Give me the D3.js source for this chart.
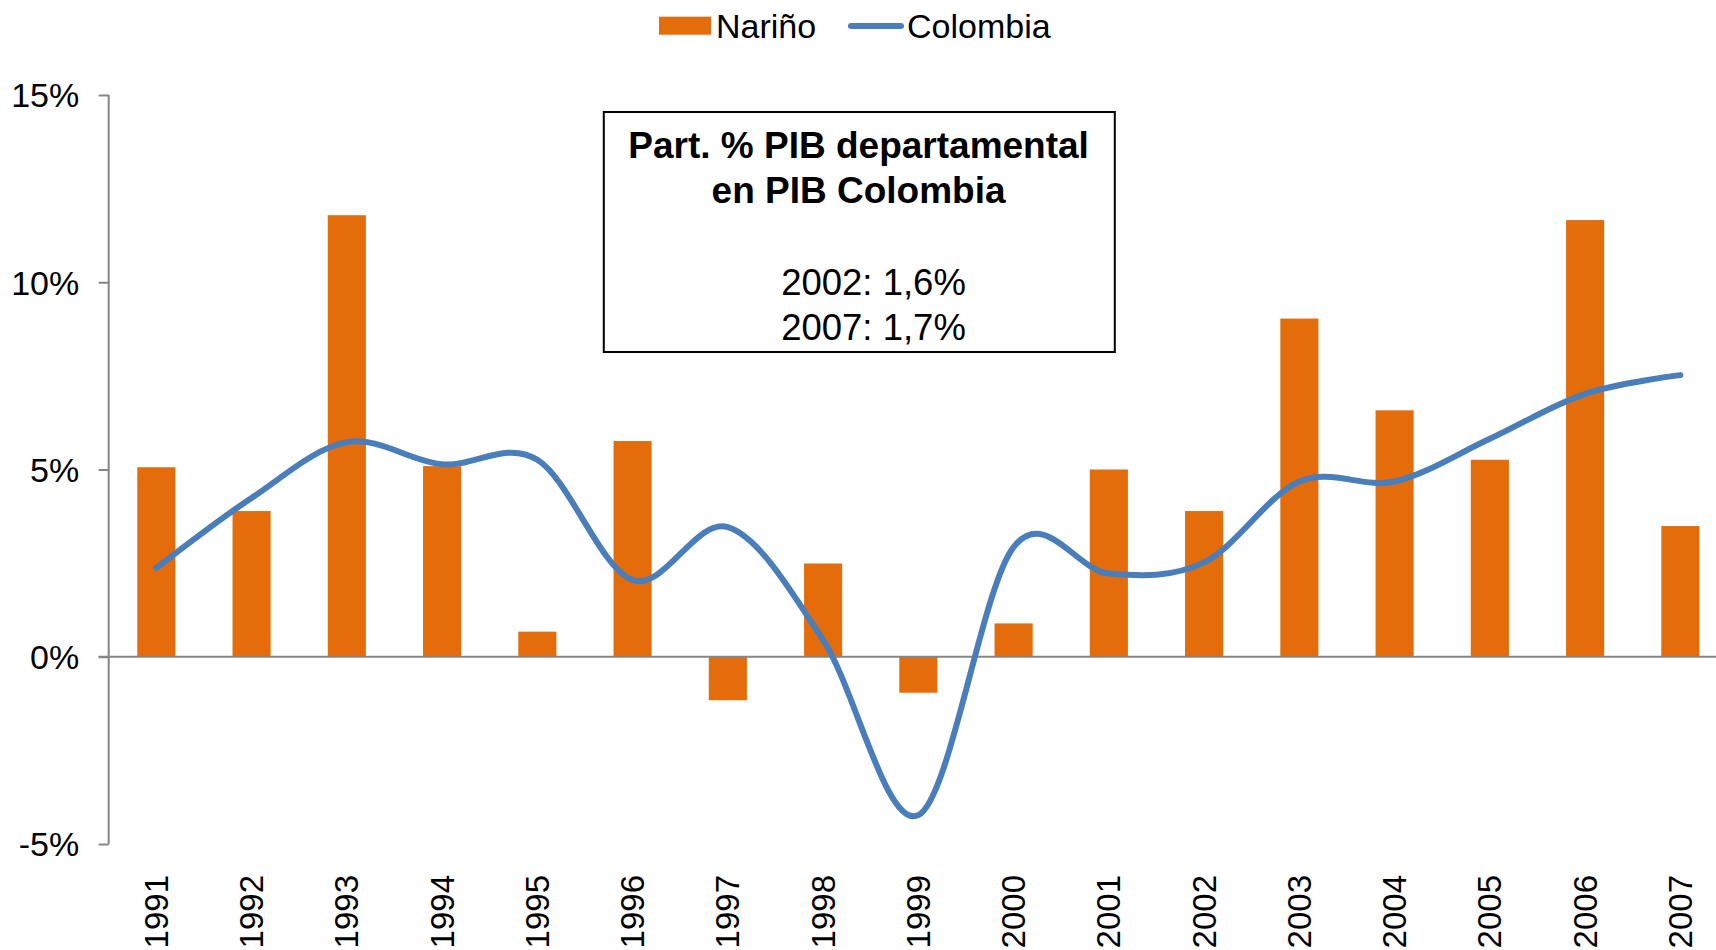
<!DOCTYPE html>
<html>
<head>
<meta charset="utf-8">
<script src="https://cdn.jsdelivr.net/npm/d3@7"></script>
<style>
  html, body { margin: 0; padding: 0; background: #fff; }
  svg { display: block; font-family: "Liberation Sans", Arial, sans-serif; }
</style>
</head>
<body>
<svg id="chart" width="1716" height="950"></svg>
<script>
const years = ["1991","1992","1993","1994","1995","1996","1997","1998","1999","2000","2001","2002","2003","2004","2005","2006","2007"];
const narino = [5.06, 3.89, 11.79, 5.09, 0.67, 5.76, -1.16, 2.49, -0.96, 0.89, 5.0, 3.89, 9.03, 6.58, 5.26, 11.66, 3.49];
const colombia = [2.37, 4.24, 5.73, 5.14, 5.26, 2.05, 3.46, 0.45, -4.23, 2.93, 2.22, 2.52, 4.68, 4.68, 5.82, 7.02, 7.52];
const yTicks = [-5, 0, 5, 10, 15];
const seriesNames = ["Nariño", "Colombia"];
const boxTitle = ["Part. % PIB departamental", "en PIB Colombia"];
const boxLines = ["2002: 1,6%", "2007: 1,7%"];

const barColor = "#E46C0A";
const lineColor = "#4A7EBB";
const axisColor = "#868686";

const svg = d3.select("#chart");

const x = d3.scaleBand().domain(years).range([108.7, 1728]).paddingInner(0.6).paddingOuter(0.3);
const y = d3.scaleLinear().domain([-5, 15]).range([844, 95]);

// Bars
svg.append("g").selectAll("rect").data(years).join("rect")
  .attr("x", d => x(d))
  .attr("width", x.bandwidth())
  .attr("y", (d, i) => y(Math.max(0, narino[i])))
  .attr("height", (d, i) => Math.abs(y(narino[i]) - y(0)))
  .attr("fill", barColor);

// Y axis
const yAxis = d3.axisLeft(y).tickValues(yTicks).tickSize(10).tickFormat(d => d + "%");
const gy = svg.append("g").attr("transform", "translate(108.7,0)").call(yAxis);
gy.select(".domain").attr("stroke", axisColor).attr("stroke-width", 2).attr("d", "M0,95V844");
gy.selectAll(".tick line").attr("stroke", axisColor).attr("stroke-width", 2);
gy.selectAll(".tick text").attr("font-size", 34).attr("fill", "#000")
  .attr("font-family", "Liberation Sans, Arial, sans-serif")
  .attr("x", -29.5).attr("dy", "0.35em");

// Zero line (category axis)
svg.append("line").attr("x1", 98.5).attr("x2", 1716).attr("y1", y(0)).attr("y2", y(0))
  .attr("stroke", axisColor).attr("stroke-width", 2);

// X labels
svg.append("g").selectAll("text").data(years).join("text")
  .attr("transform", d => `translate(${x(d) + x.bandwidth() / 2},875) rotate(-90)`)
  .attr("text-anchor", "end")
  .attr("dominant-baseline", "central")
  .attr("font-size", 33)
  .attr("fill", "#000")
  .text(d => d);

// Line
const line = d3.line()
  .x((d, i) => x(years[i]) + x.bandwidth() / 2)
  .y(d => y(d))
  .curve(d3.curveCatmullRom.alpha(0));
svg.append("path").datum(colombia)
  .attr("d", line)
  .attr("fill", "none")
  .attr("stroke", lineColor)
  .attr("stroke-width", 6)
  .attr("stroke-linecap", "round")
  .attr("stroke-linejoin", "round");

// Text box
svg.append("rect").attr("x", 603.8).attr("y", 112).attr("width", 511).attr("height", 240)
  .attr("fill", "#fff").attr("stroke", "#000").attr("stroke-width", 2);
svg.append("g").selectAll("text").data(boxTitle).join("text")
  .attr("x", 858.6).attr("y", (d, i) => 158 + i * 45)
  .attr("text-anchor", "middle").attr("font-size", 37).attr("font-weight", "bold").attr("fill", "#000")
  .text(d => d);
svg.append("g").selectAll("text").data(boxLines).join("text")
  .attr("x", 873.5).attr("y", (d, i) => 295 + i * 45)
  .attr("text-anchor", "middle").attr("font-size", 36.5).attr("fill", "#000")
  .text(d => d);

// Legend
const lg = svg.append("g");
lg.append("rect").attr("x", 659).attr("y", 16.7).attr("width", 52).attr("height", 18).attr("fill", barColor);
lg.append("text").attr("x", 716).attr("y", 38).attr("font-size", 34).attr("fill", "#000").text(seriesNames[0]);
lg.append("line").attr("x1", 851).attr("x2", 901).attr("y1", 26).attr("y2", 26)
  .attr("stroke", lineColor).attr("stroke-width", 6).attr("stroke-linecap", "round");
lg.append("text").attr("x", 907).attr("y", 38).attr("font-size", 34).attr("fill", "#000").text(seriesNames[1]);
</script>
</body>
</html>
